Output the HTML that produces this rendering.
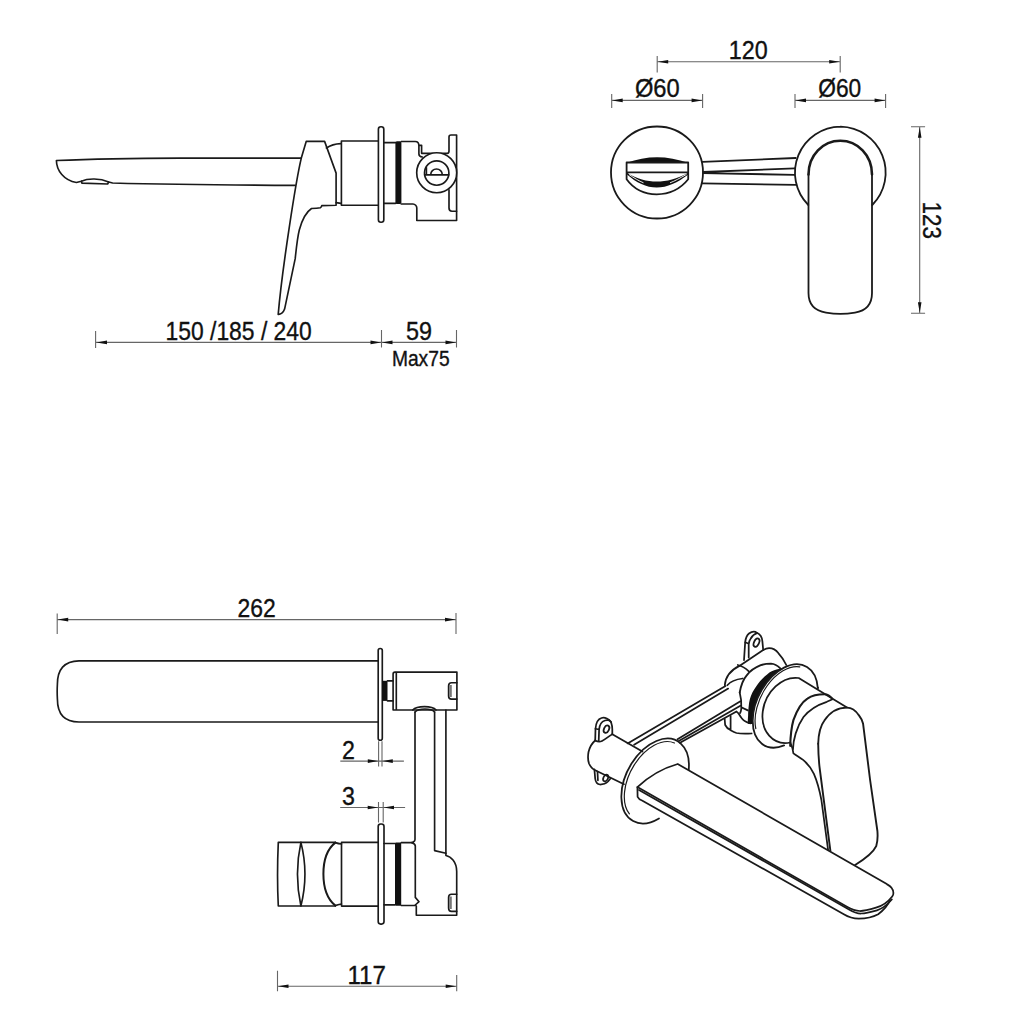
<!DOCTYPE html>
<html><head><meta charset="utf-8">
<style>
html,body{margin:0;padding:0;background:#fff;width:1023px;height:1023px;overflow:hidden}
svg{display:block}
text{font-family:"Liberation Sans",sans-serif;fill:#111;stroke:#111;stroke-width:0.35}
.s{fill:none;stroke:#1a1a1a;stroke-width:1.65;stroke-linejoin:round;stroke-linecap:round}
.w{fill:#fff;stroke:#1a1a1a;stroke-width:1.65;stroke-linejoin:round}
.d{fill:none;stroke:#666;stroke-width:1.1}
.a{fill:#111;stroke:none}
#br .s,#br .w{stroke-width:1.75}
#tr .s{stroke-width:1.8}
</style></head>
<body>
<svg width="1023" height="1023" viewBox="0 0 1023 1023">
<!-- ============ DIMENSIONS ============ -->
<g id="dims">
  <!-- 150/185/240 & 59 -->
  <path class="d" d="M96 342.4H456.5 M95.6 331V348 M381.5 330V347.5 M456.5 330V347.5"/>
  <path class="a" d="M96.5 342.4l10.5 -1.8v3.6z M381 342.4l-10.5 -1.8v3.6z M382 342.4l10.5 -1.8v3.6z M456 342.4l-10.5 -1.8v3.6z"/>
  <text x="165.5" y="340" font-size="25" textLength="146.3" lengthAdjust="spacingAndGlyphs">150 /185 / 240</text>
  <text x="405.9" y="340" font-size="25" textLength="26" lengthAdjust="spacingAndGlyphs">59</text>
  <text x="391.9" y="366.2" font-size="21.5" textLength="57.7" lengthAdjust="spacingAndGlyphs">Max75</text>

  <!-- 120 -->
  <path class="d" d="M657.2 61.7H840.2 M657.2 56V72.5 M840.2 56V72.5"/>
  <path class="a" d="M657.7 61.7l10.5 -1.8v3.6z M839.7 61.7l-10.5 -1.8v3.6z"/>
  <text x="728.8" y="59.2" font-size="25" textLength="39" lengthAdjust="spacingAndGlyphs">120</text>
  <!-- Ø60 left -->
  <path class="d" d="M611.7 100.4H702.6 M611.7 94V108 M702.6 94V108"/>
  <path class="a" d="M612.2 100.4l10.5 -1.8v3.6z M702.1 100.4l-10.5 -1.8v3.6z"/>
  <text x="634.9" y="96.6" font-size="25" textLength="44.8" lengthAdjust="spacingAndGlyphs">Ø60</text>
  <!-- Ø60 right -->
  <path class="d" d="M795 100.4H885.6 M795 94V108 M885.6 94V108"/>
  <path class="a" d="M795.5 100.4l10.5 -1.8v3.6z M885.1 100.4l-10.5 -1.8v3.6z"/>
  <text x="818.2" y="96.6" font-size="25" textLength="43" lengthAdjust="spacingAndGlyphs">Ø60</text>
  <!-- 123 -->
  <path class="d" d="M919.7 126.8V313.2 M911 126.8H925.1 M911 313.2H925.1"/>
  <path class="a" d="M919.7 127.3l-1.8 10.5h3.6z M919.7 312.7l-1.8 -10.5h3.6z"/>
  <text transform="translate(922.6,202.9) rotate(90)" x="-1.3" y="0" font-size="25" textLength="37.5" lengthAdjust="spacingAndGlyphs">123</text>

  <!-- 262 -->
  <path class="d" d="M57.2 619.6H456 M57.2 613.5V634 M456 613V634"/>
  <path class="a" d="M57.7 619.6l10.5 -1.8v3.6z M455.5 619.6l-10.5 -1.8v3.6z"/>
  <text x="237.6" y="616.6" font-size="25" textLength="38.2" lengthAdjust="spacingAndGlyphs">262</text>
  <!-- 2 -->
  <path class="d" d="M340.3 761.1H403.9 M378.6 741.3V766.6 M382 741.3V766.6"/>
  <path class="a" d="M378.3 761.1l-10.5 -1.8v3.6z M382.3 761.1l10.5 -1.8v3.6z"/>
  <text x="342.1" y="758.6" font-size="25" textLength="12.9" lengthAdjust="spacingAndGlyphs">2</text>
  <!-- 3 -->
  <path class="d" d="M340.2 807.5H405.1 M378.5 802V822.4 M383.2 802V822.4"/>
  <path class="a" d="M378.2 807.5l-10.5 -1.8v3.6z M383.5 807.5l10.5 -1.8v3.6z"/>
  <text x="342.1" y="805.1" font-size="25" textLength="12.9" lengthAdjust="spacingAndGlyphs">3</text>
  <!-- 117 -->
  <path class="d" d="M277.5 986.2H456.7 M277.5 970.8V991.3 M456.7 974.9V991.3"/>
  <path class="a" d="M278 986.2l10.5 -1.8v3.6z M456.2 986.2l-10.5 -1.8v3.6z"/>
  <text x="347.4" y="983.6" font-size="25" textLength="38.4" lengthAdjust="spacingAndGlyphs">117</text>
</g>

<!-- ============ TOP LEFT: side view ============ -->
<g id="tl">
  <!-- spout -->
  <path class="s" d="M301.3 158.1 L180 158.1 C120 158.3 80 159.5 56.4 160.5 C56.5 170.5 64 180.5 76.4 182.5 L81.3 181.2 C88 178.2 100 178.2 108.7 182 L112.6 183 C150 184 200 185 295.2 185.4"/>
  <path class="s" d="M81.3 181.2 L82 183.1 L107.6 184 L108.7 182"/>
  <!-- lever -->
  <path class="s" d="M306.2 141.4 H324.6 L336.1 173.1 V205.2 L321.8 205.6 C321.6 206.6 321 207.3 320.3 207.7 C318 208.3 315 208.5 311.5 208.5 C307 211.5 302 220 299.3 230 C297.5 237 296.3 248 295.2 258.7 L284.6 309.1 C283.5 312.5 280.5 314.6 278.2 314.4 C282 270 296 180 301.3 158.1 Z"/>
  <path class="s" d="M326.4 148 C330 145.5 335 143.8 340.9 143.6 M336.1 202.6 L341 203.4"/>
  <!-- body -->
  <path class="s" d="M341.4 141 H378.4 M341.4 205.2 H378.4 M341.4 141 V205.2"/>
  <rect class="w" x="378.4" y="126.7" width="5.4" height="95.5" rx="2.5"/>
  <path class="s" d="M383.8 142.6 H395.6 M383.8 203.3 H395.6"/>
  <rect x="395.4" y="141.3" width="6" height="62.8" rx="1.5" fill="#111"/>
  <path class="s" d="M401.2 141.5 H415.2 C417.5 141.5 418.9 143.5 418.9 145.8 V154 C418.9 155.5 420 156.7 422.3 157 M418.9 145.3 H421.6 V153.3 H447.4 C448.5 153.3 449 152.5 449 151 V137 C449 135.8 449.8 135 451 135 H456.6 V220.5 H416.8 V208 C416.8 206 415 204 413 204 H401.2"/>
  <path class="s" d="M449 189.9 V208 C449 210 450 211.2 452 211.2 H456.6"/>
  <circle class="w" cx="436.7" cy="172.7" r="20"/>
  <circle class="s" cx="436.7" cy="173" r="12.2"/>
  <path class="s" d="M424.6 174.8 H448.8 M430.7 174.8 A5.8 5.8 0 0 1 442.3 174.8 M426.4 167.5 V174.8"/>
</g>

<!-- ============ TOP RIGHT: front view ============ -->
<g id="tr">
  <circle class="s" cx="657" cy="172.5" r="46"/>
  <path class="s" d="M840.6 126.6 A46 46 0 0 1 872.3 205 M808.3 205 A46 46 0 0 1 840.6 126.6"/>
  <path class="s" d="M702.6 161.9 L795.7 158 M703 172 L794.6 168.3 M703 173.2 L794.6 174.8 M702.2 183.4 L795.9 184.9"/>
  <!-- lever -->
  <path class="s" d="M808.5 174.5 C808.5 155 823 140.7 840.3 140.7 C857.5 140.7 872 155 872 174.5" style="stroke-width:2.6"/>
  <path class="s" d="M808.5 174.5 V293 C808.5 305 816 311 826 312.6 C831 313.4 836 313.8 840.3 313.8 C845 313.8 850 313.4 855 312.6 C865 311 872 305 872 293 V174.5"/>
  <!-- handle in left circle -->
  <path fill="#111" d="M626.6 162.8 Q656.7 151.5 688.2 162.8 Z"/>
  <path class="s" d="M626.6 162.5 H688.2 M627 172.4 H688 M626.6 162.5 V179.3 C634 189.5 645 194.3 656.7 194.3 C668.5 194.3 680 189.5 688.2 179.3 V162.5"/>
  <path fill="#111" d="M627 172.7 C637 179 647 181.5 656.7 181.5 C666.5 181.5 677 179 688.2 172.7 L688.2 174.5 C678 182.5 667 187.6 656.7 187.6 C646.5 187.6 636 182.5 627 174.5 Z"/>
  <path fill="none" stroke="#fff" stroke-width="0.9" d="M629 174.4 C634 178 639 181 643.5 182.8 M670 182.8 C675 181 680 178 686.5 174.4"/>
</g>

<!-- ============ BOTTOM LEFT: top view ============ -->
<g id="bl">
  <!-- spout top view -->
  <path class="s" d="M378.2 660.8 H79 C64 660.8 57.4 670 57.4 684 C57.1 689 57.1 694 57.4 699 C57.4 713 64 722 79 722 H378.2"/>
  <rect class="w" x="378.2" y="648.5" width="4.1" height="91.7" rx="2"/>
  <rect x="382.3" y="680.8" width="5.2" height="20.1" fill="#111"/>
  <path class="s" d="M387.5 680.8 H393 M387.5 700.9 H393"/>
  <path class="s" d="M393.1 674 C393.1 672.8 394 672.1 395 672.1 H456.9 V710 H393.1 Z M396.3 672.1 V710"/>
  <path class="s" d="M456.9 682.7 H451.5 C449.8 682.7 448.6 684 448.6 686 V696 C448.6 698 449.8 699.1 451.5 699.1 H456.9"/>
  <path fill="#777" d="M449.3 685 h2.5 v12 h-2.5z"/>
  <!-- pipe -->
  <path class="s" d="M412.7 710 C417 705.5 432 705.5 436.1 710 M415 712 C419 708 431 708 434.6 712"/>
  <path class="s" d="M415 712 V839.4 C415 841.5 412.5 842.6 411.5 842.6 C413 843 415 844 415.3 845.8 V897.4 L419 901.7 L415.3 905 L416.3 906 V915.2 H456.7 V871.6 C456.7 862 451 856.5 445.9 855.5 V710"/>
  <path class="s" d="M434.6 712 V850.6 L445.9 853.3"/>
  <path class="s" d="M456.7 894.2 H451.5 C449.8 894.2 448.6 895.5 448.6 897.5 V908 C448.6 910 449.8 911.4 451.5 911.4 H456.7"/>
  <path fill="#777" d="M449.3 896.5 h2.5 v12.5 h-2.5z"/>
  <!-- lower body -->
  <path class="s" d="M278.3 842.4 H335.3 M278.3 906 H335.3 M278.3 842.4 C277.5 860 277.5 890 278.3 906"/>
  <path class="s" d="M300.9 842.4 Q294 874 300.9 906 Q309 874 300.9 842.4"/>
  <path class="s" d="M335.3 842.6 C326 850 323.4 862 323.4 874 C323.4 886 326 898 335.3 905.6" style="stroke-width:2"/>
  <path class="s" d="M335.3 842.6 C337 843.2 339.5 843.8 341.5 844 M335.3 905.6 C337 905 339.5 904.4 341.5 904"/>
  <path class="s" d="M341.5 842.3 H378.2 M341.5 906.1 H378.2 M341.5 842.3 V906.1"/>
  <rect class="w" x="378.2" y="824" width="5.8" height="100.1" rx="2.5"/>
  <path class="s" d="M384 843.5 H395 M384 904.8 H395 M401.2 842.6 H411.5 M401.2 905.5 H415.3"/>
  <rect x="395" y="842.4" width="6.2" height="63.4" rx="1.2" fill="#111"/>
</g>

<!-- ============ BOTTOM RIGHT: iso ============ -->
<g id="br">
  <!-- upper ear -->
  <path class="s" d="M744 660.2 L745.2 641.8 C745.8 637.5 747 635 749 633.5 C751 632 752.5 631.6 753.8 631.6 C755 631.6 756 632 756.9 632.8 C758.5 633.5 760 634.8 760.8 636 C761.8 637.5 762.2 639.5 762.4 641.4 L763.2 650"/>
  <path class="s" d="M748.7 657.5 L748.7 644.5 C748.9 642 749.5 640 750.6 638.7 C752.5 635.5 754.5 634 756.9 633.2 M745.3 642.3 L748.7 643.8"/>
  <ellipse class="s" style="stroke-width:1.8" cx="756.5" cy="642.6" rx="2.5" ry="4.4" transform="rotate(25 756.5 642.6)"/>
  <!-- upper ring -->
  <path class="s" d="M724.8 685.2 C725.5 677 729 671 739.4 665.9 L762.8 650.2 C766 648.5 768 648.2 769.1 648.2 C773 648.2 776 650 778.5 653.3 C782 657 784.5 661 786.3 665"/>
  <path class="s" d="M737.8 665 C742 666 746 668.5 748.8 671.3 M727.3 685.2 C730 682 734 679.5 742.7 678.5"/>
  <path class="s" d="M724.7 719 C724.9 722 725 724 725.2 725 C726.5 727.5 728 729 730 729.8 C732 731 734 732.3 736.5 733 C741 734 746 733.8 751.6 733.5 M730.6 715.8 V729.2"/>
  <!-- bars -->
  <path class="s" d="M627.6 743.4 L725.5 686 M634.1 744.8 L728.2 688.6"/>
  <path class="s" d="M677.5 739.2 L740.4 701.3 M678.8 741 L740.4 705.8 M680 742.8 L736.5 711.5 C737 712.3 738.3 713 738.7 713.7 C739.8 715.5 740.8 717.2 741.9 718.5 C743 719.8 744 720.6 745.1 721.2 C747 722.3 748.8 723 750.5 723.3"/>
  <!-- left ear + cylinder -->
  <path class="s" d="M595.2 740.5 L595.5 728.75 C596 722 598 719 601.5 718 C605 717 609 719 611 722 C612 725 612.3 727 612.3 729 L612.3 734.2"/>
  <path class="s" d="M598.7 741.25 L599.1 729.5 C599.5 724.5 602 721.5 605 720.5 C608 719.8 610 720.5 611 722 M595.5 728.75 L599.1 729.5 M595.2 740.5 C597 741.5 600 742 602 741 C606 739 609 736 612.3 734.2"/>
  <ellipse class="s" style="stroke-width:1.8" cx="606.5" cy="729.1" rx="2.5" ry="3.9" transform="rotate(25 606.5 729.1)"/>
  <path class="s" d="M612.3 734.2 L642.4 751.6 M595.2 740.5 C591 744 589.5 748 588.5 752 C587.8 756 587.8 760 589 763.5 C590.5 767 592.5 769 595.2 770.2 L624 784.2"/>
  <path class="s" d="M594.4 769.4 L595.2 778.75 C595.6 782 597 784.2 600 784.5 C603 784.5 606 783.5 608 781.5 L610.5 778.5 M597.5 771.7 L597.9 780.3"/>
  <ellipse class="s" style="stroke-width:1.7" cx="605.7" cy="778" rx="2.3" ry="3.5" transform="rotate(25 605.7 778)"/>
  <!-- left flange -->
  <path class="s" d="M659.0 818.4 A29.18 45.66 29 1 1 688.7 770.1"/>
  <path class="s" style="stroke-width:1.2" d="M629.4 813.9 A26.18 42.66 29 0 1 674.5 743.0"/>
  <!-- cylinder 2 + dark band -->
  <path class="s" style="stroke-width:1.9" d="M739.7 692.5 C741 685 743.5 679 746.7 675.3 C750 671 755 667.5 760.8 665.2 C764 664 767.5 663.6 771 663.6 C774.5 663.8 777.5 665.5 780.3 668.3"/>
  <path class="s" d="M739.7 692.5 C741 697 741.6 703 741.3 708.8 C741 711 740.5 712.5 740 713.1 M741.3 707.2 L747.8 710.4"/>
  <path fill="#111" d="M748.3 724.0 L748.2 723.5 L748.1 722.9 L747.9 722.0 L747.8 720.6 L747.9 718.5 L748.1 715.4 L748.2 711.5 L748.6 707.1 L749.1 702.8 L749.9 699.0 L751.0 695.7 L752.4 692.6 L754.0 689.7 L755.8 687.0 L757.7 684.3 L759.8 681.6 L762.1 679.0 L764.6 676.6 L767.1 674.4 L769.4 672.6 L771.7 671.3 L774.2 670.3 L776.5 669.6 L778.6 669.1 L780.2 668.7 L781.3 668.5 L782.0 668.6 L782.5 668.8 L782.7 669.1 L783.0 669.2 L782.9 668.2 L779.5 670.3 L776.2 672.7 L773.0 675.6 L769.9 678.7 L767.0 682.2 L764.3 685.9 L761.8 689.9 L759.5 694.0 L757.6 698.2 L756.0 702.6 L754.6 706.9 L753.7 711.3 L753.0 715.6 L752.8 719.8 L752.9 723.9 Z"/>
  <!-- right flange -->
  <path class="s" d="M784.1 745.4 A44.63 28.42 -62.4 1 1 817.8 688.1"/>
  <path class="s" style="stroke-width:1.2" d="M755.8 728.6 A42.23 26.02 -62.4 0 1 799.7 666.8"/>
  
  <path class="s" d="M790.3 742.5 A26.69 33.76 -154.8 1 1 798.7 678.0 L833 699 L847 707.6"/>
  <path class="s" d="M790.3 742.5 L792.4 748.1 L793.4 753.4 C797 756 800 757.5 803.1 759.9 C808 764 811.5 768.5 813.9 773.9 C817 781 819.5 790 821.4 800 L828.1 849.8"/>
  <!-- rings -->
  <path class="s" style="stroke-width:2.1" d="M790.2 745.9 C790.5 735 791.5 727 793.4 720.1 C797 710 802 702 807.4 698.6 C812 695.5 818 694.3 824.6 694.3 C828 694.3 830.5 696.5 832.2 698.6"/>
  <path class="s" d="M793 749 C793.2 740 796.5 727 803.5 717 C809 710 817 705 826.8 701.8 L832 699.5"/>
  <!-- lever -->
  <path class="s" style="stroke-width:1.9" d="M818.2 743.8 C818.5 732 821 725 824.4 720.5 C830 712 838 707.6 847 707.6 C852 707.6 856 711 858.8 715.2 C861 718 862.5 721 863.1 723.8 L870.1 780 L877.4 831 C878 838 877.5 842 876.2 846.2 C873 853 865 859 855.1 865"/>
  <path class="s" style="stroke-width:1.9" d="M818.2 743.8 C818.3 755 818.8 762 819.9 770 L830.4 850.9"/>
  <path class="s" d="M818 687.7 L818 688"/>
  <!-- spout -->
  <path class="w" d="M637.4 787.1 C645 780 660 769 677.7 764 L886.8 884.1 C890.5 886 893.4 889.5 893.4 893 C893.4 894.8 893 895.8 892.2 896.5 C888 902 882 906 876 907.7 C870 909.5 864 911 859.9 911 C855 910.8 851 909 847 906.7 Z"/>
  <path class="s" d="M639 790 L849 909.5 C853 912 857 913.5 861 913.5 C866 913.3 871 912 877 910.3 C883 908.5 888 904 891.8 899.5"/>
  <path class="s" d="M637.4 787.1 L637.6 796.8 C638.5 798.5 640 799.8 642 800.5 L843.8 914.2 C848 916.8 853 918.5 858.8 918.5 C866 918.5 873 917 878.2 914.2 C884 910 888 905 890 900.2"/>
</g>
</svg>
</body></html>
